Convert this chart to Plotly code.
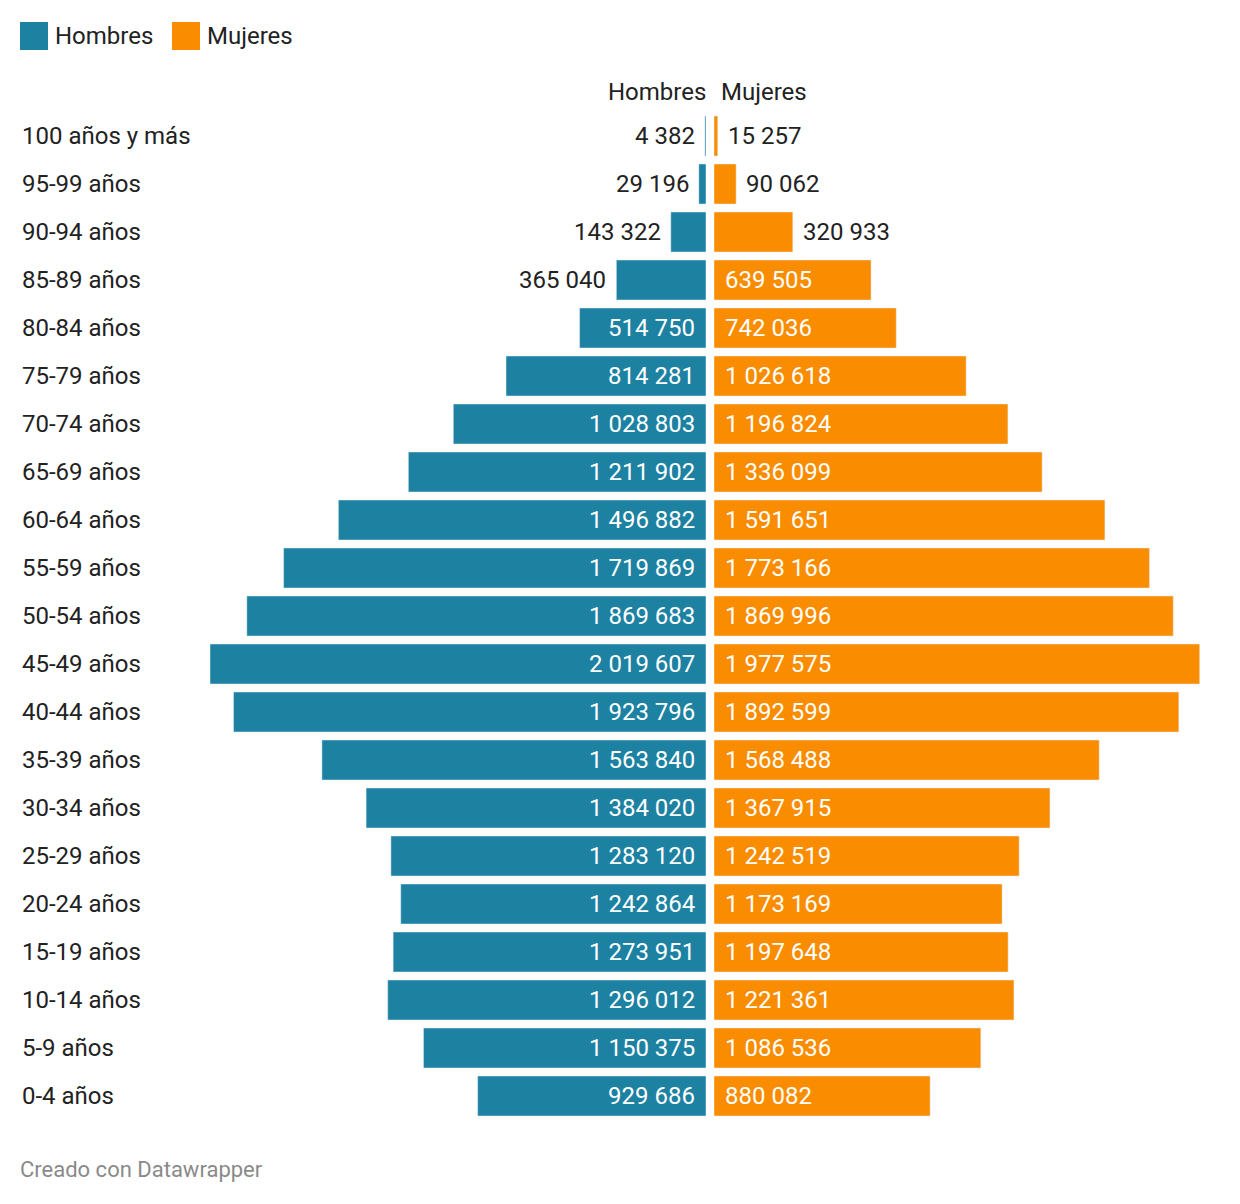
import plotly.graph_objects as go

OFF = 8  # default page body margin
W, H = 1240 - OFF, 1204 - OFF

categorias = ["100 años y más", "95-99 años", "90-94 años", "85-89 años", "80-84 años",
              "75-79 años", "70-74 años", "65-69 años", "60-64 años", "55-59 años",
              "50-54 años", "45-49 años", "40-44 años", "35-39 años", "30-34 años",
              "25-29 años", "20-24 años", "15-19 años", "10-14 años", "5-9 años", "0-4 años"]
hombres = [4382, 29196, 143322, 365040, 514750, 814281, 1028803, 1211902, 1496882, 1719869,
           1869683, 2019607, 1923796, 1563840, 1384020, 1283120, 1242864, 1273951, 1296012,
           1150375, 929686]
mujeres = [15257, 90062, 320933, 639505, 742036, 1026618, 1196824, 1336099, 1591651, 1773166,
           1869996, 1977575, 1892599, 1568488, 1367915, 1242519, 1173169, 1197648, 1221361,
           1086536, 880082]
series = ["Hombres", "Mujeres"]

AZUL = "#1d81a2"
NARANJA = "#fa8c00"
TEXTO = "#222222"
FONT = "Roboto"
FS = 24


def fmt(v):
    return f"{v:,}".replace(",", " ")


def px(x):
    return (x - OFF) / W


def py(y):
    return 1 - (y - OFF) / H


idx = list(range(len(categorias)))

hx0, hx1 = 210, 706
mx0, mx1 = 714, 1240
maxv = max(hombres)
scale = (hx1 - hx0) / maxv
mmax = (mx1 - mx0) / scale

row = 48
top_center = 136 - OFF
y_top = -top_center / row
y_bot = (H - top_center) / row

fig = go.Figure()
fig.add_trace(go.Bar(x=hombres, y=idx, orientation="h", marker_color=AZUL,
                     xaxis="x", yaxis="y", name=series[0], hoverinfo="skip"))
fig.add_trace(go.Bar(x=mujeres, y=idx, orientation="h", marker_color=NARANJA,
                     xaxis="x2", yaxis="y", name=series[1], hoverinfo="skip"))

ann = []
thr = 400000
for i, (c, h, m) in enumerate(zip(categorias, hombres, mujeres)):
    ann.append(dict(x=px(20), xref="paper", y=i, yref="y", text=c, showarrow=False,
                    xanchor="left", yanchor="middle", font=dict(size=FS, color=TEXTO, family=FONT)))
    if h >= thr:
        ann.append(dict(x=0, xref="x", y=i, yref="y", text=fmt(h), showarrow=False,
                        xanchor="right", xshift=-9, yanchor="middle",
                        font=dict(size=FS, color="white", family=FONT)))
    else:
        ann.append(dict(x=h, xref="x", y=i, yref="y", text=fmt(h), showarrow=False,
                        xanchor="right", xshift=-8, yanchor="middle",
                        font=dict(size=FS, color=TEXTO, family=FONT)))
    if m >= thr:
        ann.append(dict(x=0, xref="x2", y=i, yref="y", text=fmt(m), showarrow=False,
                        xanchor="left", xshift=9, yanchor="middle",
                        font=dict(size=FS, color="white", family=FONT)))
    else:
        ann.append(dict(x=m, xref="x2", y=i, yref="y", text=fmt(m), showarrow=False,
                        xanchor="left", xshift=8, yanchor="middle",
                        font=dict(size=FS, color=TEXTO, family=FONT)))

ann.append(dict(x=0, xref="x", y=py(92), yref="paper", text=series[0], showarrow=False,
                xanchor="right", xshift=2, yanchor="middle", font=dict(size=FS, color=TEXTO, family=FONT)))
ann.append(dict(x=0, xref="x2", y=py(92), yref="paper", text=series[1], showarrow=False,
                xanchor="left", xshift=5, yanchor="middle", font=dict(size=FS, color=TEXTO, family=FONT)))

shapes = []
leg = [(20, AZUL, series[0], 53), (172, NARANJA, series[1], 205)]
for x0, col, name, tx in leg:
    shapes.append(dict(type="rect", xref="paper", yref="paper", x0=px(x0), x1=px(x0 + 28),
                       y0=py(50), y1=py(22), fillcolor=col, line=dict(width=0)))
    ann.append(dict(x=px(tx), xref="paper", y=py(36), yref="paper", text=name, showarrow=False,
                    xanchor="left", yanchor="middle", font=dict(size=FS, color=TEXTO, family=FONT)))

ann.append(dict(x=px(18), xref="paper", y=py(1169), yref="paper", text="Creado con Datawrapper",
                showarrow=False, xanchor="left", yanchor="middle",
                font=dict(size=22, color="#8a8a8a", family=FONT)))

fig.update_layout(
    width=W, height=H, margin=dict(l=0, r=0, t=0, b=0),
    paper_bgcolor="white", plot_bgcolor="white",
    showlegend=False, bargap=8 / 48,
    xaxis=dict(domain=[px(hx0), px(hx1)], range=[maxv, 0], visible=False, fixedrange=True),
    xaxis2=dict(domain=[px(mx0), min(1, px(mx1))], range=[0, mmax * (min(1, px(mx1)) - px(mx0)) / (px(mx1) - px(mx0))],
                visible=False, fixedrange=True),
    yaxis=dict(range=[y_bot, y_top], visible=False, fixedrange=True),
    annotations=ann, shapes=shapes,
)

fig.write_html("out.html")
